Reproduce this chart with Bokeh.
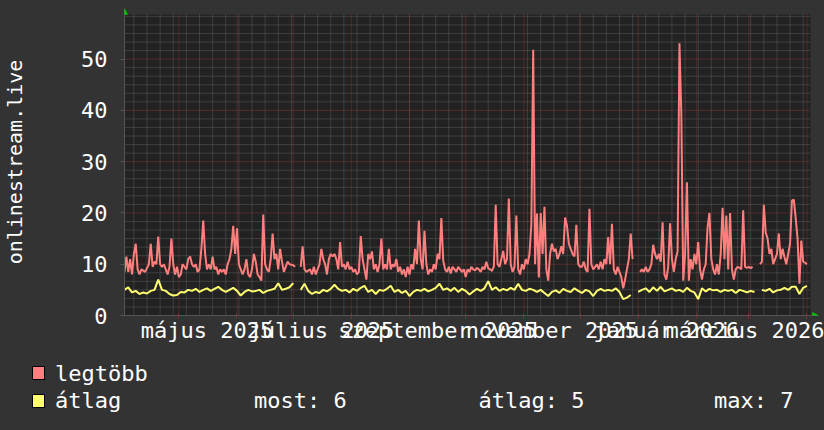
from datetime import date

from bokeh.embed import file_html
from bokeh.layouts import column
from bokeh.models import (AllLabels, Arrow, BoxAnnotation, Div, FixedTicker, NormalHead, Range1d)
from bokeh.plotting import figure
from bokeh.resources import INLINE

NAN = float("nan")

# ---------------- data ----------------
START = date(2025, 4, 2)          # first day shown
X_END = 365.9                     # days shown
Y_MAX = 58.7

y_ticks = [0, 10, 20, 30, 40, 50]
label_months = [(2025, 5), (2025, 7), (2025, 9), (2025, 11), (2026, 1), (2026, 3)]
label_texts = ["május 2025", "július 2025", "szeptember 2025",
               "november 2025", "január 2026", "március 2026"]
grid_months = [(2025, 5), (2025, 6), (2025, 7), (2025, 8), (2025, 9), (2025, 10),
               (2025, 11), (2025, 12), (2026, 1), (2026, 2), (2026, 3), (2026, 4)]

# "legtöbb" (maximum) series: (day since START, value)
red_samples = [
    (0, 8.5), (1, 11.5), (2, 8.5), (3, 11), (4, 8), (5, 12), (6, 14), (7, 9), (8, 8), (9, 9),
    (11, 8.5), (13, 10), (14, 14), (15, 9.5), (16, 10.5), (17, 10), (18, 15.4), (19, 10),
    (20, 9.5), (21, 10), (22, 9), (23, 8), (24, 9.5), (25, 15), (26, 10), (27, 8), (28, 9.5),
    (29, 7.5), (30, 8), (31, 10), (33, 9), (34, 11), (35, 11.5), (36, 10), (37, 9.5), (38, 10),
    (39, 8.5), (40, 9), (41, 13), (42, 18.5), (43, 12), (44, 9), (45, 10), (46, 9), (47, 11.5),
    (48, 9), (49, 9.5), (50, 8), (51, 9), (52, 8.5), (53, 9), (54, 8), (55, 10), (56, 11),
    (57, 13), (58, 17.5), (59, 12), (60, 17), (61, 10), (62, 9), (63, 8), (64, 9), (65, 11),
    (66, 8), (67, 7.5), (68, 9), (69, 12), (70, 10.5), (71, 8), (72, 7.5), (73, 6.8), (74, 19.7),
    (75, 10), (76, 9), (77, 8.5), (78, 11), (79, 16), (80, 11), (81, 12), (82, 9), (83, 13),
    (84, 10.5), (85, 8.5), (86, 9.5), (87, 10.5), (88, 10), (90, 9.8), (91, 9.5), (92, NAN),
    (94, 9.5), (95, 13.5), (96, 9), (97, 8.5), (99, 9), (100, 8), (101, 9.5), (102, 8), (103, 9),
    (104, 10), (105, 13), (106, 11), (107, 10), (108, 8), (109, 11), (110, 12), (111, 11.5),
    (112, 12), (113, 11), (114, 9), (115, 14.3), (116, 9.5), (117, 10), (118, 9), (119, 10.5),
    (120, 9), (121, 9.5), (122, 8.5), (123, 9), (124, 8), (125, 8.5), (126, 15.5), (127, 11),
    (128, 9), (129, 7), (130, 12), (131, 11), (132, 12.5), (133, 9), (134, 10), (135, 8.5),
    (136, 10), (137, 15), (138, 9), (139, 10), (140, 9), (141, 13), (142, 9), (143, 10),
    (144, 9.5), (145, 11), (146, 8.5), (147, 9.5), (148, 8), (149, 9), (150, 7.5), (151, 9.5),
    (152, 8), (153, 10), (154, 9), (155, 13), (156, 10), (157, 18.5), (158, 11), (159, 9),
    (160, 16.5), (161, 10), (162, 8), (163, 9), (164, 8.5), (165, 10), (166, 9), (167, 12),
    (168, 11), (169, 19), (170, 10.7), (171, 9), (172, 8.5), (173, 9.5), (174, 8.2), (175, 9.5),
    (176, 9), (177, 8.5), (178, 9.5), (179, 9), (180, 8.5), (181, 9), (182, 7.5), (183, 9),
    (184, 8.5), (185, 9.5), (186, 9), (187, 8.8), (188, 9.3), (189, 9), (190, 8.5), (191, 9.5),
    (192, 9), (193, 10.5), (194, 9.2), (195, 9), (196, 8.7), (197, 9.5), (198, 21.6), (199, 10),
    (200, 9.5), (201, 11), (202, 12.6), (203, 10), (204, 11), (205, 22.8), (206, 10), (207, 8.5),
    (208, 9.5), (209, 19.5), (210, 9), (211, 8), (212, 10), (213, 9), (214, 11), (215, 10),
    (216, 12), (217, 17.7), (218, 51.8), (219, 10), (220, 19.9), (221, 7.4), (222, 20), (223, 12),
    (224, 21.2), (225, 9), (226, 6.8), (227, 12), (228, 14), (229, 12.5), (230, 13), (231, 11),
    (232, 12), (233, 13.5), (234, 12), (235, 19.1), (236, 17.5), (237, 14), (238, 13), (239, 12),
    (240, 11.5), (241, 17.7), (242, 10), (243, 9.5), (244, 9.5), (245, 10.5), (246, 9), (247, 8.5),
    (248, 20.8), (249, 10), (250, 9), (251, 9.5), (252, 10), (253, 9), (254, 10.5), (255, 9),
    (256, 11), (257, 10), (258, 15.3), (259, 10), (260, 17.9), (261, 9), (262, 8), (263, 9.5),
    (264, 8.5), (265, 7.5), (266, 5.3), (267, 7), (268, 9), (269, 11), (270, 16), (271, 11),
    (272, NAN), (275, 8.5), (276, 9), (277, 8.5), (278, 9.5), (279, 8.5), (280, 9), (281, 10),
    (282, 13.8), (283, 12), (284, 11), (285, 12), (286, 10.5), (287, 18.2), (288, 8), (289, 7),
    (290, 9.5), (291, 18), (292, 11), (293, 8.5), (294, 11), (295, 12.5), (296, 53.1), (297, 39.4),
    (298, 6.8), (299, 12), (300, 26), (301, 6.8), (302, 11), (303, 9), (304, 12), (305, 10),
    (306, 14.3), (307, 9), (308, 7), (309, 9), (310, 10), (311, 17.2), (312, 20), (313, 11),
    (314, 9), (315, 8), (316, 10), (317, 8), (318, 12), (319, 21), (320, 11), (321, 19.5),
    (322, 9), (323, 20), (324, 9), (325, 7), (326, 9), (327, 9.5), (328, 9.3), (329, 9),
    (330, 20.5), (331, 9.5), (332, 9.3), (333, 9.5), (334, 9.2), (335, 9.5), (337, NAN),
    (339, 10), (340, 10.5), (341, 21.6), (342, 16.2), (343, 15), (344, 12), (345, 13), (346, 10),
    (347, 11), (348, 12), (349, 16), (350, 11), (351, 13), (352, 11.4), (353, 10), (354, 12),
    (355, 14), (356, 22.4), (357, 22.6), (358, 19), (359, 15), (360, 6.2), (361, 14.6),
    (362, 10.5), (363, 10.3), (364, 10),
]
red_day = [d for d, _ in red_samples]
red_val = [v for _, v in red_samples]

# "átlag" (average) series, one sample every 2 days from START
yellow_day = list(range(0, 366, 2))
yellow_val = [
    5.0, 5.5, 4.5, 4.8, 4.2, 4.5, 4.3, 4.8, 5.0, 7.0,
    5.0, 4.8, 4.2, 3.9, 4.0, 4.6, 4.5, 5.0, 4.8, 5.2,
    4.6, 5.0, 5.3, 4.8, 5.2, 5.6, 5.0, 4.6, 5.0, 5.4,
    4.8, 3.9, 4.6, 5.0, 4.7, 4.8, 5.0, 4.4, 4.8, 5.0,
    5.2, 6.3, 5.0, 5.2, 5.5, 6.3, NAN, 5.0, 6.2, 4.8,
    4.2, 4.6, 4.4, 5.0, 4.7, 5.2, 6.0, 5.2, 4.8, 5.0,
    4.5, 5.2, 4.8, 5.4, 5.8, 4.6, 5.0, 4.2, 5.0, 4.8,
    5.2, 5.8, 4.6, 5.0, 4.4, 4.8, 3.8, 4.6, 5.0, 4.8,
    5.2, 4.7, 5.0, 5.4, 6.2, 5.0, 5.3, 4.8, 5.4, 4.6,
    5.2, 4.8, 4.1, 4.7, 5.2, 4.8, 5.3, 6.7, 5.0, 5.5,
    4.8, 5.2, 4.9, 5.4, 5.0, 6.2, 5.0, 4.8, 5.2, 5.0,
    4.6, 5.0, 4.4, 3.8, 4.6, 4.9, 4.4, 5.2, 4.8, 4.6,
    5.3, 4.8, 4.4, 5.0, 4.7, 3.8, 4.8, 5.2, 4.8, 5.0,
    4.8, 5.3, 4.6, 3.2, 3.5, 4.0, NAN, 4.6, 5.0, 5.3,
    4.6, 5.5, 4.8, 5.6, 4.7, 5.0, 5.3, 4.8, 5.0, 4.6,
    5.4, 4.8, 4.5, 3.2, 5.3, 4.7, 5.2, 4.9, 5.0, 4.6,
    5.0, 4.8, 5.0, 4.4, 5.0, 4.8, 4.5, 4.8, 4.6, NAN,
    5.0, 4.8, 5.2, 4.5, 4.9, 5.0, 5.4, 5.0, 5.6, 5.6,
    4.2, 5.4, 5.8,
]
assert len(yellow_day) == len(yellow_val)

series_names = ["legtöbb", "átlag"]
stat_names = ["most", "átlag", "max"]
stat_values = [6, 5, 7]
axis_title = "onlinestream.live"

# ---------------- style ----------------
FONT = "DejaVu Sans Mono"
BACK = "#333333"
CANVAS = "#222222"
GRID = "#5c5c5c"
MGRID = "#7d3535"
RED = "#ff7f7f"
YEL = "#ffff70"
GREEN = "#00d000"
WHITE = "#ffffff"


def day_of(y, m, d=1):
    return (date(y, m, d) - START).days


month_days = [day_of(y, m) for (y, m) in grid_months]
label_days = [day_of(y, m) + 15 for (y, m) in label_months]
first_monday = (7 - START.weekday()) % 7
week_days = [d for d in range(first_monday, int(X_END) + 1, 7)]
minor_y = [k * 10 / 6 for k in range(1, 36) if k % 6]
major_y = [t for t in y_ticks if t > 0]

# geometry: plot area 686 x 301 px, plus room for the two axis arrows
AREA_W, AREA_H = 686, 301
ARROW_TOP, ARROW_RIGHT = 6, 8
px_day = AREA_W / X_END
px_unit = AREA_H / Y_MAX
x_hi = X_END + ARROW_RIGHT / px_day
y_hi = Y_MAX + ARROW_TOP / px_unit

p = figure(frame_width=AREA_W + ARROW_RIGHT, frame_height=AREA_H + ARROW_TOP,
           x_range=Range1d(0, x_hi), y_range=Range1d(0, y_hi),
           output_backend="svg", toolbar_location=None,
           min_border_left=124, min_border_right=6, min_border_top=8, min_border_bottom=38)
p.background_fill_color = BACK
p.border_fill_color = BACK
p.outline_line_color = None
p.xgrid.visible = False
p.ygrid.visible = False

# dark plot canvas
p.add_layout(BoxAnnotation(left=0, right=X_END, bottom=0, top=Y_MAX, fill_color=CANVAS,
                           fill_alpha=1, line_alpha=0, level="underlay"))

# grid
p.segment(x0=week_days, y0=0, x1=week_days, y1=Y_MAX, line_color=GRID, line_width=1, line_dash="1 1")
p.segment(x0=0, y0=minor_y, x1=X_END, y1=minor_y, line_color=GRID, line_width=1, line_dash="1 1")
p.segment(x0=month_days, y0=0, x1=month_days, y1=Y_MAX, line_color=MGRID, line_width=1, line_dash="1 1")
p.segment(x0=0, y0=major_y, x1=X_END, y1=major_y, line_color=MGRID, line_width=1, line_dash="1 1")

# data
p.line(red_day, red_val, line_color=RED, line_width=2)
p.line(yellow_day, yellow_val, line_color=YEL, line_width=2)

# axes
xa = p.xaxis[0]
xa.ticker = FixedTicker(ticks=label_days, minor_ticks=month_days)
xa.major_label_overrides = {d: t for d, t in zip(label_days, label_texts)}
xa.major_label_policy = AllLabels()
xa.major_tick_line_color = None
xa.major_tick_out = 0
xa.major_tick_in = 0
xa.minor_tick_line_color = MGRID
xa.minor_tick_in = 2
xa.minor_tick_out = 3
xa.major_label_standoff = -1
xa.axis_line_color = "#555555"
xa.major_label_text_font = FONT
xa.major_label_text_font_size = "22px"
xa.major_label_text_color = WHITE

ya = p.yaxis[0]
ya.ticker = FixedTicker(ticks=y_ticks, minor_ticks=[])
ya.major_tick_line_color = "#555555"
ya.major_tick_out = 4
ya.major_tick_in = 0
ya.major_label_standoff = 13
ya.axis_line_color = "#555555"
ya.major_label_text_font = FONT
ya.major_label_text_font_size = "22px"
ya.major_label_text_color = WHITE
ya.axis_label = axis_title
ya.axis_label_text_font = FONT
ya.axis_label_text_font_size = "20px"
ya.axis_label_text_font_style = "normal"
ya.axis_label_text_color = WHITE
ya.axis_label_standoff = 51

# green axis arrows
p.add_layout(Arrow(end=NormalHead(size=6, fill_color=GREEN, line_color=GREEN, line_width=0.5),
                   x_start=0, y_start=Y_MAX, x_end=0, y_end=y_hi, line_alpha=0))
p.add_layout(Arrow(end=NormalHead(size=6, fill_color=GREEN, line_color=GREEN, line_width=0.5),
                   x_start=X_END, y_start=0, x_end=x_hi, y_end=0, line_alpha=0))

# ---------------- legend strip ----------------
LEG_TOP = 8 + AREA_H + ARROW_TOP + 38          # page y where the strip starts
LEG_H = 430 - LEG_TOP


def swatch(color, top):
    return (f'<span style="position:absolute;left:32px;top:{top - LEG_TOP}px;width:13px;height:14px;'
            f'background:{color};border:1px solid #000;"></span>')


def text_at(txt, left, baseline):
    top = baseline - LEG_TOP - 18.6
    return (f'<span style="position:absolute;left:{left}px;top:{top:.1f}px;line-height:22px;'
            f'white-space:pre;">{txt}</span>')


stat_texts = [f"{n}: {v}" for n, v in zip(stat_names, stat_values)]
html = (f'<div style="position:relative;margin:0;padding:0;width:824px;height:{LEG_H}px;background:{BACK};'
        f'font-family:\'{FONT}\';font-size:22px;color:{WHITE};overflow:hidden;">'
        + swatch(RED, 366) + text_at(series_names[0], 55, 381.5)
        + swatch(YEL, 394) + text_at(series_names[1], 55, 408.5)
        + text_at(stat_texts[0], 254, 408.5)
        + text_at(stat_texts[1], 478.5, 408.5)
        + text_at(stat_texts[2], 714, 408.5)
        + '</div>')
legend_div = Div(text=html, width=824, height=LEG_H, margin=0,
                 styles={"background-color": BACK, "margin": "0", "padding": "0"})

layout = column(p, legend_div, spacing=0, styles={"background-color": BACK})
open("out.html", "w").write(file_html(layout, INLINE))
